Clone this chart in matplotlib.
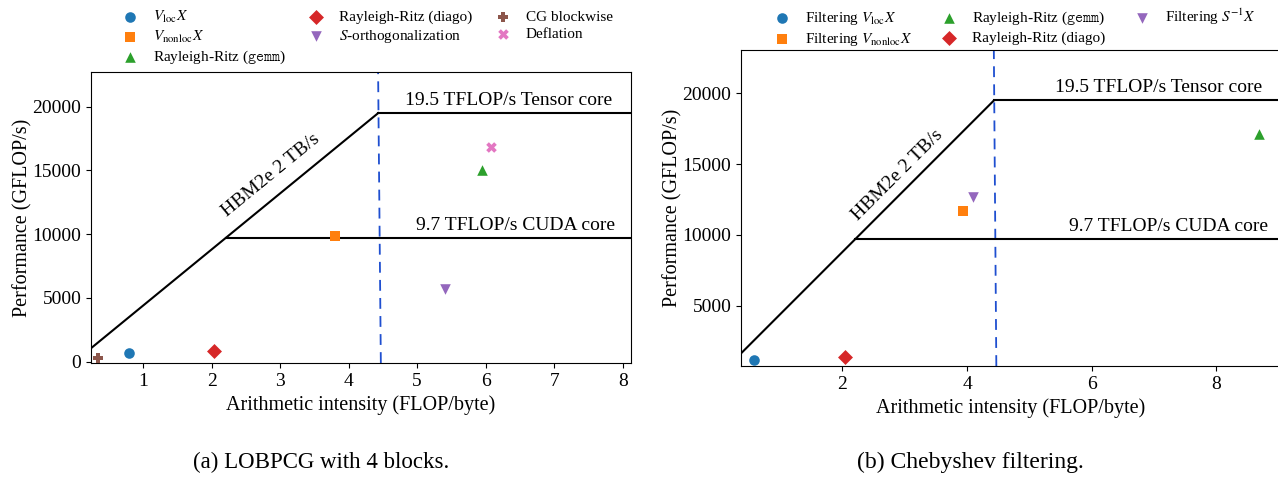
import numpy as np
import matplotlib
matplotlib.use("Agg")
import matplotlib.pyplot as plt

plt.rcParams["font.family"] = ["Liberation Serif", "DejaVu Serif"]
plt.rcParams["mathtext.fontset"] = "stix"

# ---------------------------------------------------------------------------
# DATA
# ---------------------------------------------------------------------------
bandwidth = 4400.0        # GFLOP/s per FLOP/byte (slope of the memory roof)
peak_tensor = 19500.0
peak_cuda = 9700.0
ridge_x = [4.47, 4.43]    # dashed marker of the ridge point (bottom, top)

# (a) LOBPCG with 4 blocks
lob_labels = [r"$V_{\mathrm{loc}}X$", r"$V_{\mathrm{nonloc}}X$",
              r"Rayleigh-Ritz ($\mathtt{gemm}$)", "Rayleigh-Ritz (diago)",
              r"$S$-orthogonalization", "CG blockwise", "Deflation"]
lob_x = [0.80, 3.80, 5.95, 2.04, 5.40, 0.34, 6.08]
lob_y = [650, 9850, 15050, 850, 5700, 330, 16800]
lob_markers = ["o", "s", "^", "D", "v", "P", "X"]
lob_colors = ["#1f77b4", "#ff7f0e", "#2ca02c", "#d62728", "#9467bd", "#8c564b", "#e377c2"]

# (b) Chebyshev filtering
cheb_labels = [r"Filtering $V_{\mathrm{loc}}X$", r"Filtering $V_{\mathrm{nonloc}}X$",
               r"Rayleigh-Ritz ($\mathtt{gemm}$)", "Rayleigh-Ritz (diago)",
               r"Filtering $S^{-1}X$"]
cheb_x = [0.58, 3.93, 8.68, 2.04, 4.10]
cheb_y = [1150, 11700, 17100, 1400, 12650]
cheb_markers = ["o", "s", "^", "D", "v"]
cheb_colors = ["#1f77b4", "#ff7f0e", "#2ca02c", "#d62728", "#9467bd"]

fig = plt.figure(figsize=(12.78, 4.79), dpi=100)
ax1 = fig.add_axes([0.0712, 0.2422, 0.4225, 0.6075])
ax2 = fig.add_axes([0.5798, 0.2359, 0.4225, 0.6597])


def roofline(ax, xlim, ylim, lbl_pos, tensor_x, cuda_x):
    ax.set_xlim(*xlim)
    ax.set_ylim(*ylim)
    x0 = xlim[0]
    x_cuda = peak_cuda / bandwidth
    x_tensor = peak_tensor / bandwidth
    ax.plot([x0, x_tensor], [bandwidth * x0, peak_tensor], color="black", lw=1.5, zorder=2)
    ax.plot([x_tensor, xlim[1]], [peak_tensor, peak_tensor], color="black", lw=1.5, zorder=2)
    ax.plot([x_cuda, xlim[1]], [peak_cuda, peak_cuda], color="black", lw=1.5, zorder=2)
    ax.plot(ridge_x, [ylim[0], ylim[1]], color="#1f4fd0", lw=1.3, ls=(0, (6, 4)), zorder=1)

    ax.annotate("19.5 TFLOP/s Tensor core", (tensor_x, peak_tensor), xytext=(0, 3),
                textcoords="offset points", ha="right", va="bottom", fontsize=14)
    ax.annotate("9.7 TFLOP/s CUDA core", (cuda_x, peak_cuda), xytext=(0, 3),
                textcoords="offset points", ha="right", va="bottom", fontsize=14)
    ang = ax.transData.transform_angles(np.array([np.degrees(np.arctan(bandwidth))]),
                                        np.array([[2.0, 2.0 * bandwidth]]))[0]
    ax.text(lbl_pos[0], lbl_pos[1], "HBM2e 2 TB/s", rotation=ang, ha="center",
            va="center", rotation_mode="anchor", fontsize=14)

    ax.set_xlabel("Arithmetic intensity (FLOP/byte)", fontsize=14.5)
    ax.set_ylabel("Performance (GFLOP/s)", fontsize=14.5, labelpad=0)
    ax.tick_params(labelsize=14)


roofline(ax1, (0.24, 8.12), (-100, 22720), (2.86, 14600), 7.85, 7.88)
roofline(ax2, (0.37, 9.04), (740, 23060), (2.88, 14250), 8.73, 8.83)

ax1.set_xticks([1, 2, 3, 4, 5, 6, 7, 8])
ax1.set_yticks([0, 5000, 10000, 15000, 20000])
ax2.set_xticks([2, 4, 6, 8])
ax2.set_yticks([5000, 10000, 15000, 20000])

for lbl, x, y, m, c in zip(lob_labels, lob_x, lob_y, lob_markers, lob_colors):
    ax1.scatter(x, y, marker=m, color=c, s=58, label=lbl, zorder=3, linewidths=0)
for lbl, x, y, m, c in zip(cheb_labels, cheb_x, cheb_y, cheb_markers, cheb_colors):
    ax2.scatter(x, y, marker=m, color=c, s=58, label=lbl, zorder=3, linewidths=0)

leg_kw = dict(loc="lower center", ncol=3, frameon=False, fontsize=11,
              handletextpad=0.5, columnspacing=1.0, labelspacing=0.25,
              borderaxespad=0.3, borderpad=0.2)
ax1.legend(bbox_to_anchor=(0.505, 0.995), **leg_kw)
ax2.legend(bbox_to_anchor=(0.50, 0.982), **dict(leg_kw, columnspacing=1.4))

fig.text(0.251, 0.034, "(a) LOBPCG with 4 blocks.", ha="center", va="center", fontsize=16.5)
fig.text(0.759, 0.034, "(b) Chebyshev filtering.", ha="center", va="center", fontsize=17)

fig.savefig("out.png", dpi=100)
